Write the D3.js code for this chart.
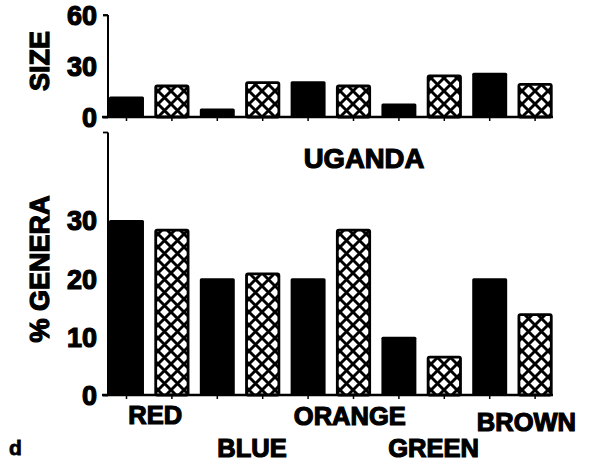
<!DOCTYPE html>
<html>
<head>
<meta charset="utf-8">
<script src="https://cdn.jsdelivr.net/npm/d3@7"></script>
<style>
  html, body { margin: 0; padding: 0; background: #fff; }
  svg { display: block; }
  text { font-family: "Liberation Sans", Arial, Helvetica, sans-serif; font-weight: bold; fill: #000; }
</style>
</head>
<body>
<script>
// Colour categories and the two series (solid = observed, hatched = expected)
const categories = ["RED", "BLUE", "ORANGE", "GREEN", "BROWN"];
const series = ["solid", "hatched"];

// Upper panel: sample size
const sizeSolid   = [12, 5, 21, 8, 26];
const sizeHatched = [19, 21, 19, 25, 20];
const sizeTicks   = [0, 30, 60];

// Lower panel: percentage of genera
const generaSolid   = [30, 20, 20, 10, 20];
const generaHatched = [28.5, 21, 28.5, 6.7, 14];
const generaTicks   = [0, 10, 20, 30];

const title = "UGANDA";
const panelLetter = "d";

// Category label placement under the lower axis (dx from group centre, baseline y)
const labelLayout = [[6, 424], [12, 457], [19, 425], [12, 457], [14, 431]];

const W = 595, H = 465;
const svg = d3.select("body").append("svg").attr("width", W).attr("height", H);

// Cross-hatch pattern for the second series
const T = 13;
const defs = svg.append("defs");
const pat = defs.append("pattern")
  .attr("id", "xhatch").attr("patternUnits", "userSpaceOnUse")
  .attr("width", T).attr("height", T)
  .attr("x", 2).attr("y", 0);
pat.append("rect").attr("width", T).attr("height", T).attr("fill", "#fff");
pat.append("path").attr("d", `M-1,-1 L${T + 1},${T + 1} M${T + 1},-1 L-1,${T + 1}`)
  .attr("stroke", "#000").attr("stroke-width", 2.9);

// Shared horizontal scales
const x0 = d3.scaleBand().domain(categories).range([103.8, 557.8]);
const x1 = d3.scaleBand().domain(series).range([0, x0.bandwidth()])
  .paddingInner(0.23).paddingOuter(0.115);

const xAxisLeft = 102, xAxisRight = 553;
const axisX = 108;
const textStroke = 1.2;

function rows(solid, hatched) {
  const out = [];
  categories.forEach((c, i) => {
    out.push({ cat: c, s: "solid", v: solid[i] });
    out.push({ cat: c, s: "hatched", v: hatched[i] });
  });
  return out;
}

function panel(y, data, ticks, tickLineValues, axisTop) {
  const g = svg.append("g");
  // bars
  g.selectAll("rect.bar").data(data).enter().append("rect")
    .attr("class", "bar")
    .attr("x", d => x0(d.cat) + x1(d.s) + (d.s === "hatched" ? 1.3 : 0))
    .attr("width", d => x1.bandwidth() - (d.s === "hatched" ? 2.6 : 0))
    .attr("y", d => y(d.v) + (d.s === "hatched" ? 1.3 : 0))
    .attr("height", d => y(0) - y(d.v) - (d.s === "hatched" ? 1.3 : 0))
    .attr("rx", 1.5)
    .attr("fill", d => d.s === "solid" ? "#000" : "url(#xhatch)")
    .attr("stroke", d => d.s === "solid" ? "none" : "#000")
    .attr("stroke-width", 2.8);

  // vertical axis with labels
  const ax = d3.axisLeft(y).tickValues(ticks).tickSize(5).tickPadding(6).tickFormat(d3.format("d"));
  const a = g.append("g").attr("transform", `translate(${axisX},0)`).call(ax);
  a.select(".domain").remove();
  a.selectAll(".tick line")
    .attr("stroke", "#000").attr("stroke-width", 1.8)
    .attr("opacity", d => tickLineValues.includes(d) ? 1 : 0);
  a.selectAll(".tick text")
    .attr("font-size", 27).attr("fill", "#000")
    .attr("stroke", "#000").attr("stroke-width", textStroke)
    .attr("font-family", "Liberation Sans, Arial, sans-serif")
    .attr("font-weight", "bold")
    .attr("dy", "0.36em");
  // axis spine
  g.append("line").attr("x1", axisX).attr("x2", axisX)
    .attr("y1", axisTop).attr("y2", y(0))
    .attr("stroke", "#000").attr("stroke-width", 2);
  // top tick of spine
  g.append("line").attr("x1", axisX - 5).attr("x2", axisX)
    .attr("y1", axisTop).attr("y2", axisTop)
    .attr("stroke", "#000").attr("stroke-width", 1.8);
  // baseline
  g.append("line").attr("x1", xAxisLeft).attr("x2", xAxisRight)
    .attr("y1", y(0)).attr("y2", y(0))
    .attr("stroke", "#000").attr("stroke-width", 2.6);
  // small ticks under each bar
  g.selectAll("line.btick").data(data).enter().append("line")
    .attr("class", "btick")
    .attr("x1", d => x0(d.cat) + x1(d.s) + x1.bandwidth() / 2)
    .attr("x2", d => x0(d.cat) + x1(d.s) + x1.bandwidth() / 2)
    .attr("y1", y(0)).attr("y2", y(0) + 4)
    .attr("stroke", "#000").attr("stroke-width", 1.5);
  return g;
}

// Upper panel
const ySize = d3.scaleLinear().domain([0, 60]).range([117, 15]);
panel(ySize, rows(sizeSolid, sizeHatched), sizeTicks, [0, 60], ySize(60));

// Lower panel (axis extends to 45)
const yGen = d3.scaleLinear().domain([0, 45]).range([395, 132.5]);
panel(yGen, rows(generaSolid, generaHatched), generaTicks, [0], yGen(45));

// Axis titles
svg.append("text").attr("transform", `translate(49,${61}) rotate(-90)`)
  .attr("text-anchor", "middle").attr("font-size", 27)
  .attr("stroke", "#000").attr("stroke-width", textStroke)
  .text("SIZE");
svg.append("text").attr("transform", `translate(49,${269}) rotate(-90)`)
  .attr("text-anchor", "middle").attr("font-size", 27)
  .attr("stroke", "#000").attr("stroke-width", textStroke)
  .text("% GENERA");

// Title
svg.append("text").attr("x", 364).attr("y", 168)
  .attr("text-anchor", "middle").attr("font-size", 27.5)
  .attr("stroke", "#000").attr("stroke-width", textStroke)
  .text(title);

// Category labels
svg.selectAll("text.cat").data(categories).enter().append("text")
  .attr("class", "cat")
  .attr("x", (d, i) => x0(d) + x0.bandwidth() / 2 + labelLayout[i][0])
  .attr("y", (d, i) => labelLayout[i][1])
  .attr("text-anchor", "middle").attr("font-size", 25.5)
  .attr("stroke", "#000").attr("stroke-width", textStroke)
  .text(d => d);

// Panel letter
svg.append("text").attr("x", 9).attr("y", 455)
  .attr("font-size", 21).attr("stroke", "#000").attr("stroke-width", 0.8)
  .text(panelLetter);
</script>
</body>
</html>
